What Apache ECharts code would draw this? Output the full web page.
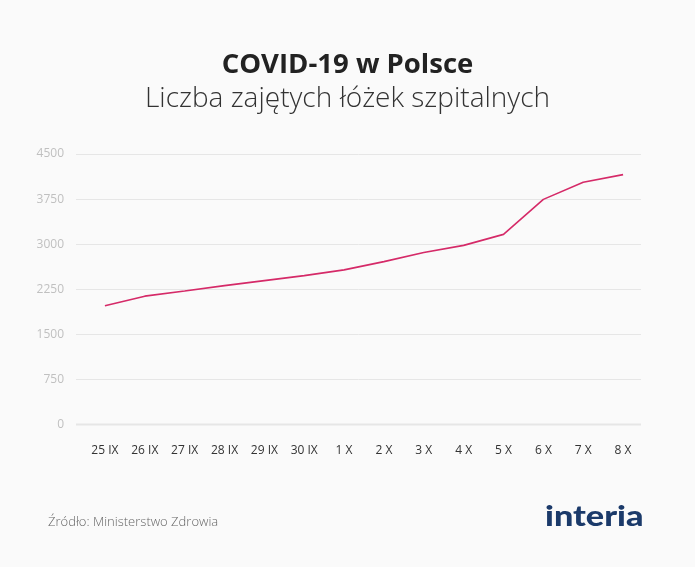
<!DOCTYPE html>
<html><head><meta charset="utf-8">
<script src="https://cdn.jsdelivr.net/npm/echarts@6/dist/echarts.min.js"></script>
<style>html,body{margin:0;padding:0;background:#fafafa}#c{width:695px;height:567px}</style>
</head><body><div id="c"></div>
<script>
const categories = ['25 IX','26 IX','27 IX','28 IX','29 IX','30 IX','1 X','2 X','3 X','4 X','5 X','6 X','7 X','8 X'];
const beds = [1977, 2135, 2221, 2310, 2393, 2477, 2572, 2710, 2860, 2980, 3163, 3745, 4030, 4157];
const yTicks = [0, 750, 1500, 2250, 3000, 3750, 4500];
const titleText = 'COVID-19 w Polsce';
const subtitleText = 'Liczba zajętych łóżek szpitalnych';
const sourceText = 'Źródło: Ministerstwo Zdrowia';
const logoText = 'interia';

const chart = echarts.init(document.getElementById('c'), null, {renderer: 'canvas'});
const yMin = yTicks[0], yMax = yTicks[yTicks.length - 1], yStep = yTicks[1] - yTicks[0];
chart.setOption({
  backgroundColor: '#fafafa',
  animation: false,
  title: [
    {text: titleText, left: 'center', top: 51, padding: 0, textStyle: {fontFamily: 'Open Sans', fontWeight: 'bold', fontSize: 27.5, color: '#222'}},
    {text: subtitleText, left: 'center', top: 85, padding: 0, textStyle: {fontFamily: 'Open Sans', fontWeight: 300, fontSize: 28, color: '#333'}},
    {text: sourceText, left: 48, top: 516, padding: 0, textStyle: {fontFamily: 'Open Sans', fontWeight: 300, fontSize: 13, color: '#666'}}
  ],
  grid: [
    {left: 76, right: 54, top: 154, bottom: 567 - 424.5},
    {left: 85, right: 52, top: 154, bottom: 567 - 424.5}
  ],
  xAxis: [
    {gridIndex: 0, type: 'category', data: categories, show: false},
    {gridIndex: 1, type: 'category', data: categories, boundaryGap: true,
     axisLine: {show: false}, axisTick: {show: false},
     axisLabel: {fontFamily: 'Open Sans', fontSize: 12, color: '#333', margin: 20, interval: 0}}
  ],
  yAxis: [
    {gridIndex: 0, type: 'value', min: yMin, max: yMax, interval: yStep,
     axisLine: {show: false}, axisTick: {show: false},
     axisLabel: {fontFamily: 'Open Sans', fontSize: 12, color: '#c0c0c0', margin: 12,
       padding: [0, 0, 6, 0], formatter: v => String(v)},
     splitLine: {lineStyle: {color: '#e6e6e6', width: 1}}},
    {gridIndex: 1, type: 'value', min: yMin, max: yMax, interval: yStep, show: false, splitLine: {show: false}}
  ],
  graphic: [
    {type: 'rect', shape: {x: 76, y: 423.5, width: 565, height: 2}, style: {fill: '#e6e6e6'}, silent: true, z: 1},
    {type: 'text', left: 545, top: 502, scaleX: 1.18,
     style: {text: logoText, font: '900 29px Lato', fill: '#1b3a6a'}}
  ],
  series: [{
    type: 'line', xAxisIndex: 1, yAxisIndex: 1, data: beds,
    symbol: 'none', lineStyle: {color: '#d52a68', width: 1.6}, z: 5
  }]
});
</script></body></html>
